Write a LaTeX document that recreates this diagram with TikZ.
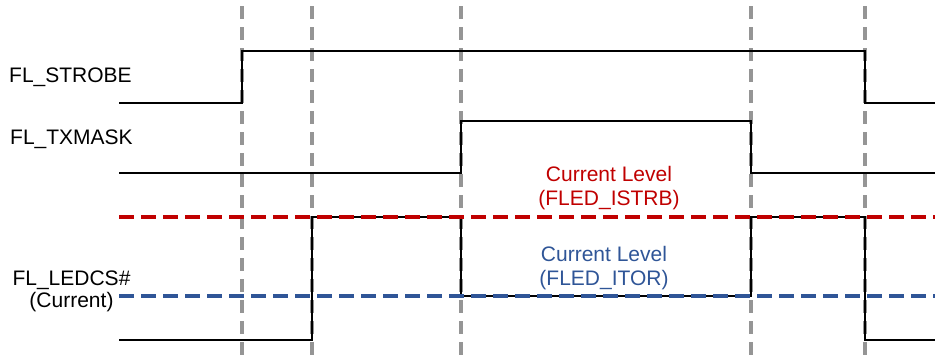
\documentclass[tikz,border=0pt]{standalone}
\usepackage{fontspec}
\setmainfont{Liberation Sans}
\definecolor{myred}{HTML}{C00000}
\definecolor{myblue}{HTML}{2F5597}
\definecolor{mygray}{HTML}{959595}
\begin{document}
\begin{tikzpicture}[x=1pt,y=-1pt,
  wave/.style={line width=2.1pt, black},
  guide/.style={line width=3.2pt, mygray, dash pattern=on 13pt off 8pt},
  lvlred/.style={line width=3.4pt, myred, dash pattern=on 15pt off 7pt},
  lvlblue/.style={line width=3.4pt, myblue, dash pattern=on 15pt off 7pt},
  lbl/.style={font=\fontsize{21}{25}\selectfont, inner sep=0pt},
]
\useasboundingbox (0,0) rectangle (935,354);
% guides
\foreach \gx in {242,312,461,751,865}{
  \draw[guide] (\gx,6) -- (\gx,356);
}
% waveforms
\draw[wave] (119,103) -- (242,103) -- (242,51) -- (865,51) -- (865,103) -- (935,103);
\draw[wave] (119,173) -- (461,173) -- (461,121) -- (751,121) -- (751,173) -- (935,173);
\draw[wave] (119,340) -- (312,340) -- (312,217) -- (461,217) -- (461,296) -- (751,296) -- (751,217) -- (865,217) -- (865,340) -- (935,340);
% level lines
\draw[lvlred] (119,217) -- (935,217);
\draw[lvlblue] (119,296) -- (935,296);
% labels
\node[lbl, anchor=west] (strobe) at (9,77) {FL\_STROBE};
\node[lbl, anchor=west] (txmask) at (10,139) {FL\_TXMASK};
\node[lbl] (ledcs) at (71.5,280) {FL\_LEDCS\#};
\node[lbl] (cur) at (71.5,302) {(Current)};
\node[lbl, text=myred, align=center] (istrb) at (609,188) {Current Level\\[-1pt](FLED\_ISTRB)};
\node[lbl, text=myblue, align=center] (itor) at (604,268) {Current Level\\[-1pt](FLED\_ITOR)};
\end{tikzpicture}
\end{document}
